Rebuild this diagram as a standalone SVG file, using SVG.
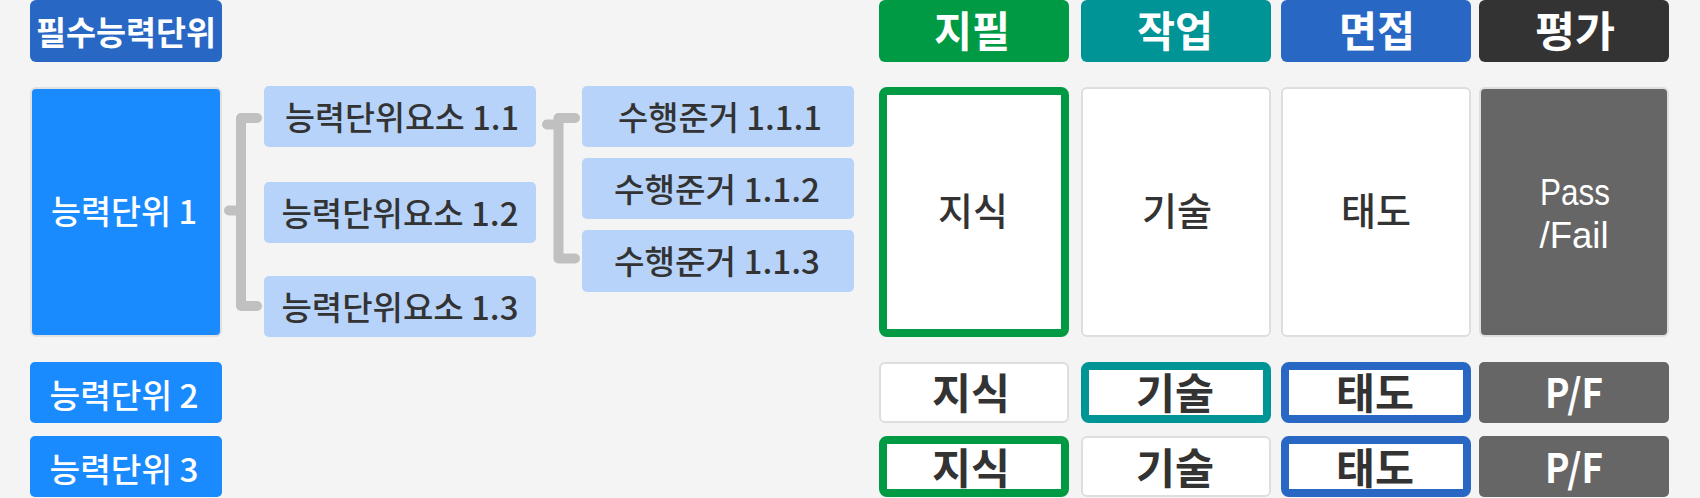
<svg xmlns="http://www.w3.org/2000/svg" width="1700" height="498" viewBox="0 0 1700 498">
<style>
text{font-family:"Noto Sans CJK KR","Noto Sans",sans-serif;text-anchor:middle;font-weight:500}
.lat{font-family:"Liberation Sans",Arial,sans-serif;font-weight:400}
.w{fill:#ffffff}.d{fill:#333333}
.b{font-weight:700}
.unit{fill:#1a8bff}
.elem{fill:#b7d3fa}
.card{fill:#ffffff;stroke:#dedede;stroke-width:2}
.pf{fill:#666666;stroke:#dedede;stroke-width:2}
.g{fill:#ffffff;stroke:#009a44;stroke-width:8}
.t{fill:#ffffff;stroke:#009496;stroke-width:8}
.bl{fill:#ffffff;stroke:#2967c5;stroke-width:8}
.br{fill:none;stroke:#c0c0c0;stroke-width:10;stroke-linecap:round;stroke-linejoin:round}
</style>
<rect width="1700" height="498" fill="#f4f4f4"/>

<g id="connectors">
<path class="br" d="M257,118 H241 V306 H257 M241,210.5 H229"/>
<path class="br" d="M575,118 H558.5 V258.5 H575 M558.5,124.5 H547"/>
</g>

<g id="header-unit"><rect x="30" y="0" width="192" height="62" rx="6" fill="#2967c5"/><text class="w b" x="126" y="45" font-size="33" textLength="180" lengthAdjust="spacingAndGlyphs">필수능력단위</text></g>

<g id="unit1"><rect class="unit" x="31" y="88" width="190" height="248" rx="5" stroke="#e0e0e0" stroke-width="2"/><text class="w" x="124" y="224" font-size="33" textLength="146" lengthAdjust="spacingAndGlyphs">능력단위 1</text></g>
<g id="unit2"><rect class="unit" x="30" y="362" width="192" height="61" rx="5"/><text class="w" x="124" y="408" font-size="33" textLength="149" lengthAdjust="spacingAndGlyphs">능력단위 2</text></g>
<g id="unit3"><rect class="unit" x="30" y="436" width="192" height="61" rx="5"/><text class="w" x="124" y="482" font-size="33" textLength="149" lengthAdjust="spacingAndGlyphs">능력단위 3</text></g>

<g id="elem11"><rect class="elem" x="264" y="86" width="272" height="61" rx="5"/><text class="d" x="402" y="130" font-size="33" textLength="234" lengthAdjust="spacingAndGlyphs">능력단위요소 1.1</text></g>
<g id="elem12"><rect class="elem" x="264" y="182" width="272" height="61" rx="5"/><text class="d" x="400" y="226" font-size="33" textLength="237" lengthAdjust="spacingAndGlyphs">능력단위요소 1.2</text></g>
<g id="elem13"><rect class="elem" x="264" y="276" width="272" height="61" rx="5"/><text class="d" x="400" y="320" font-size="33" textLength="237" lengthAdjust="spacingAndGlyphs">능력단위요소 1.3</text></g>

<g id="crit111"><rect class="elem" x="582" y="86" width="272" height="61" rx="5"/><text class="d" x="720" y="130" font-size="33" textLength="204" lengthAdjust="spacingAndGlyphs">수행준거 1.1.1</text></g>
<g id="crit112"><rect class="elem" x="582" y="158" width="272" height="61" rx="5"/><text class="d" x="717" y="202" font-size="33" textLength="206" lengthAdjust="spacingAndGlyphs">수행준거 1.1.2</text></g>
<g id="crit113"><rect class="elem" x="582" y="230" width="272" height="62" rx="5"/><text class="d" x="717" y="274" font-size="33" textLength="206" lengthAdjust="spacingAndGlyphs">수행준거 1.1.3</text></g>

<g id="h-written"><rect x="879" y="0" width="190" height="62" rx="6" fill="#009a44"/><text class="w b" x="972" y="47" font-size="42" textLength="76" lengthAdjust="spacingAndGlyphs">지필</text></g>
<g id="h-task"><rect x="1081" y="0" width="190" height="62" rx="6" fill="#009496"/><text class="w b" x="1175" y="47" font-size="42" textLength="76" lengthAdjust="spacingAndGlyphs">작업</text></g>
<g id="h-interview"><rect x="1281" y="0" width="190" height="62" rx="6" fill="#2967c5"/><text class="w b" x="1377" y="47" font-size="42" textLength="76" lengthAdjust="spacingAndGlyphs">면접</text></g>
<g id="h-eval"><rect x="1479" y="0" width="190" height="62" rx="6" fill="#333333"/><text class="w b" x="1575" y="47" font-size="42" textLength="80" lengthAdjust="spacingAndGlyphs">평가</text></g>

<g id="u1-know"><rect class="g" x="883" y="91" width="182" height="242" rx="4"/><text class="d" x="973" y="225" font-size="38" textLength="70" lengthAdjust="spacingAndGlyphs">지식</text></g>
<g id="u1-skill"><rect class="card" x="1082" y="88" width="188" height="248" rx="5"/><text class="d" x="1177" y="225" font-size="38" textLength="70" lengthAdjust="spacingAndGlyphs">기술</text></g>
<g id="u1-att"><rect class="card" x="1282" y="88" width="188" height="248" rx="5"/><text class="d" x="1376" y="225" font-size="38" textLength="70" lengthAdjust="spacingAndGlyphs">태도</text></g>
<g id="u1-pf"><rect class="pf" x="1480" y="88" width="188" height="248" rx="5"/><text class="w lat" x="1575" y="205" font-size="37" textLength="70" lengthAdjust="spacingAndGlyphs">Pass</text><text class="w lat" x="1574" y="248" font-size="37" textLength="69" lengthAdjust="spacingAndGlyphs">/Fail</text></g>

<g id="u2-know"><rect class="card" x="880" y="363" width="188" height="59" rx="5"/><text class="d b" x="971" y="409" font-size="42" textLength="78" lengthAdjust="spacingAndGlyphs">지식</text></g>
<g id="u2-skill"><rect class="t" x="1085" y="366" width="182" height="53" rx="4"/><text class="d b" x="1175" y="409" font-size="42" textLength="78" lengthAdjust="spacingAndGlyphs">기술</text></g>
<g id="u2-att"><rect class="bl" x="1285" y="366" width="182" height="53" rx="4"/><text class="d b" x="1375" y="409" font-size="42" textLength="78" lengthAdjust="spacingAndGlyphs">태도</text></g>
<g id="u2-pf"><rect x="1479" y="362" width="190" height="61" rx="5" fill="#666666"/><text class="w b" x="1574" y="408" font-size="40" textLength="58" lengthAdjust="spacingAndGlyphs">P/F</text></g>

<g id="u3-know"><rect class="g" x="883" y="440" width="182" height="53" rx="4"/><text class="d b" x="971" y="484" font-size="42" textLength="78" lengthAdjust="spacingAndGlyphs">지식</text></g>
<g id="u3-skill"><rect class="card" x="1082" y="437" width="188" height="59" rx="5"/><text class="d b" x="1175" y="484" font-size="42" textLength="78" lengthAdjust="spacingAndGlyphs">기술</text></g>
<g id="u3-att"><rect class="bl" x="1285" y="440" width="182" height="53" rx="4"/><text class="d b" x="1375" y="484" font-size="42" textLength="78" lengthAdjust="spacingAndGlyphs">태도</text></g>
<g id="u3-pf"><rect x="1479" y="436" width="190" height="61" rx="5" fill="#666666"/><text class="w b" x="1574" y="483" font-size="40" textLength="58" lengthAdjust="spacingAndGlyphs">P/F</text></g>
</svg>
